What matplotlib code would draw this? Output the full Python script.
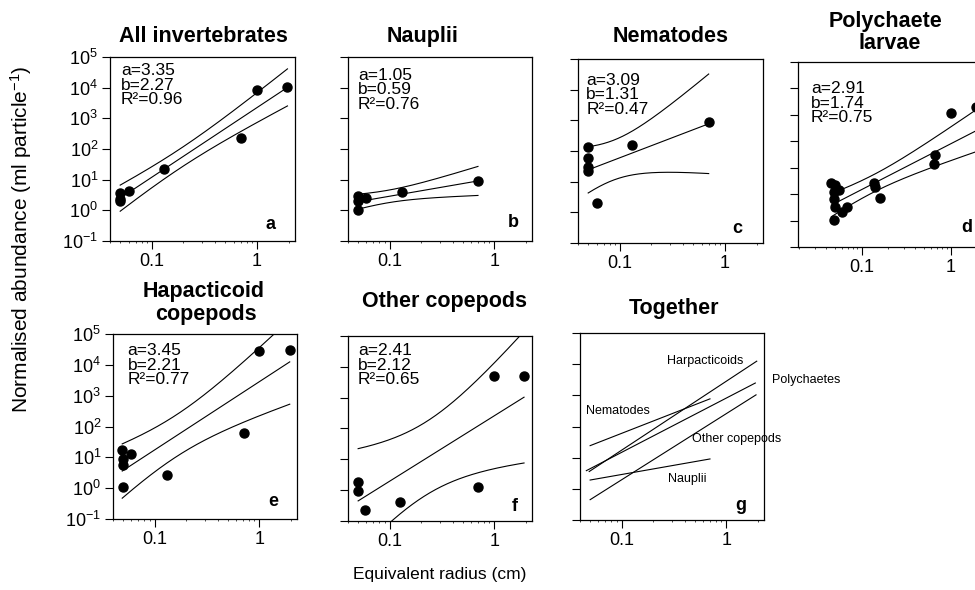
import numpy as np
import matplotlib
matplotlib.use("Agg")
import matplotlib.pyplot as plt
from matplotlib.ticker import FixedLocator, FixedFormatter, LogLocator, NullFormatter, NullLocator

plt.rcParams['font.family'] = ['Liberation Sans', 'DejaVu Sans']
plt.rcParams['mathtext.fontset'] = 'custom'
plt.rcParams['mathtext.rm'] = 'Liberation Sans'
plt.rcParams['mathtext.it'] = 'Liberation Sans:italic'
plt.rcParams['mathtext.bf'] = 'Liberation Sans:bold'

# ---------------- data ----------------
inv_x = [0.05, 0.05, 0.05, 0.061, 0.13, 0.70, 1.0, 1.95]
inv_y = [3.8, 2.0, 2.3, 4.3, 22, 223, 8400, 10300]

naup_x = [0.05, 0.05, 0.05, 0.06, 0.13, 0.70]
naup_y = [3.0, 2.0, 1.0, 2.6, 3.9, 8.8]

nem_x = [0.05, 0.05, 0.05, 0.05, 0.061, 0.13, 0.70]
nem_y = [139, 58, 29, 23, 2.0, 157, 869]

poly_x = [0.046, 0.051, 0.056, 0.049, 0.049, 0.051, 0.061, 0.069, 0.049,
          0.139, 0.143, 0.163, 0.66, 0.65, 1.0, 1.9]
poly_y = [27, 22, 14.4, 12.4, 6.4, 3.2, 2.1, 3.2, 1.05,
          27, 18, 7, 305, 136, 12200, 20400]

hap_x = [0.049, 0.05, 0.05, 0.06, 0.05, 0.13, 0.71, 1.0, 1.96]
hap_y = [17.6, 8.8, 5.8, 13, 1.09, 2.6, 61, 28800, 30300]

oth_x = [0.05, 0.05, 0.058, 0.127, 0.70, 1.0, 1.93]
oth_y = [1.78, 0.95, 0.22, 0.42, 1.28, 4970, 4970]

titles = ["All invertebrates", "Nauplii", "Nematodes", "Polychaete\nlarvae",
          "Hapacticoid\ncopepods", "Other copepods", "Together"]
panel_letters = ["a", "b", "c", "d", "e", "f", "g"]
fit_a = [3.35, 1.05, 3.09, 2.91, 3.45, 2.41]
fit_b = [2.27, 0.59, 1.31, 1.74, 2.21, 2.12]
fit_r2 = [0.96, 0.76, 0.47, 0.75, 0.77, 0.65]

together_names = ["Harpacticoids", "Polychaetes", "Other copepods", "Nematodes", "Nauplii"]
together_idx = [4, 3, 5, 2, 1]

xticks = [0.1, 1]
xticklabels = ["0.1", "1"]

T95 = {2: 4.303, 3: 3.182, 4: 2.776, 5: 2.571, 6: 2.447, 7: 2.365, 8: 2.306,
       9: 2.262, 10: 2.228, 11: 2.201, 12: 2.179, 13: 2.160, 14: 2.145,
       15: 2.131, 16: 2.120, 17: 2.110, 18: 2.101, 19: 2.093, 20: 2.086}

series = [(inv_x, inv_y), (naup_x, naup_y), (nem_x, nem_y), (poly_x, poly_y),
          (hap_x, hap_y), (oth_x, oth_y)]

# ---------------- layout ----------------
W, H = 975, 590
fig = plt.figure(figsize=(W / 100, H / 100), dpi=100)


def add_ax(x0, y0, x1, y1):
    return fig.add_axes([x0 / W, 1 - y1 / H, (x1 - x0) / W, (y1 - y0) / H])


boxes = [(110, 57, 295, 241), (348, 57, 532, 241), (578, 59, 763, 243),
         (798, 62, 983, 247), (113, 334, 297, 519), (348, 336, 532, 521),
         (580, 333, 764, 520)]
xlims = [(0.04, 2.3)] * 3 + [(0.0195, 2.28)] + [(0.04, 2.3)] * 3
ylims = [(0.1, 1e5)] * 3 + [(0.1, 1e6)] + [(0.1, 1e5)] * 3
ylab_on = [True, False, False, False, True, False, False]
stat_pos = [(0.06, 0.965), (0.055, 0.94), (0.045, 0.925), (0.07, 0.895),
            (0.08, 0.95), (0.055, 0.96)]
letter_pos = [(0.865, 0.092), (0.897, 0.103), (0.86, 0.08), (0.91, 0.108),
              (0.87, 0.097), (0.907, 0.076), (0.875, 0.08)]
title_pos = [[(203, 42)], [(423, 42)], [(671, 42)], [(886, 27), (890, 49)],
             [(204, 297), (206, 320)], [(444, 307)], [(674, 314)]]


def fit_curves(x, y, a, b):
    lx = np.log10(np.asarray(x, float))
    ly = np.log10(np.asarray(y, float))
    n = len(lx)
    xs = np.geomspace(min(x), max(x), 200)
    lxs = np.log10(xs)
    res = ly - (a + b * lx)
    s = np.sqrt(np.sum(res ** 2) / (n - 2))
    sxx = np.sum((lx - lx.mean()) ** 2)
    se = s * np.sqrt(1.0 / n + (lxs - lx.mean()) ** 2 / sxx)
    t = T95[n - 2]
    mid = a + b * lxs
    return xs, 10 ** mid, 10 ** (mid - t * se), 10 ** (mid + t * se)


axes = []
for i, box in enumerate(boxes):
    ax = add_ax(*box)
    ax.set_xscale('log')
    ax.set_yscale('log')
    ax.set_xlim(*xlims[i])
    ax.set_ylim(*ylims[i])
    ax.xaxis.set_major_locator(FixedLocator(xticks))
    ax.xaxis.set_major_formatter(FixedFormatter(xticklabels))
    ax.xaxis.set_minor_locator(LogLocator(base=10, subs=np.arange(2, 10), numticks=20))
    ax.xaxis.set_minor_formatter(NullFormatter())
    ax.yaxis.set_major_locator(LogLocator(base=10, numticks=20))
    ax.yaxis.set_minor_locator(NullLocator())
    if not ylab_on[i]:
        ax.yaxis.set_major_formatter(NullFormatter())
    ax.tick_params(which='major', direction='out', length=5.5, width=0.8,
                   labelsize=13, pad=3, colors='black')
    ax.tick_params(which='minor', direction='out', length=1.5, width=0.5)
    for sp in ax.spines.values():
        sp.set_linewidth(0.9)
    ax.text(*letter_pos[i], panel_letters[i], transform=ax.transAxes,
            ha='center', va='center', fontsize=13, fontweight='bold')
    for (tx, ty), line in zip(title_pos[i], titles[i].split("\n")):
        fig.text(tx / W, 1 - ty / H, line, ha='center', va='baseline',
                 fontsize=15.5, fontweight='bold')
    axes.append(ax)

for i in range(6):
    ax = axes[i]
    x, y = series[i]
    xs, mid, lo, hi = fit_curves(x, y, fit_a[i], fit_b[i])
    for curve in (mid, lo, hi):
        ax.plot(xs, curve, color='black', lw=0.8)
    ax.plot(x, y, 'o', color='black', ms=6.5, mec='black', clip_on=False, zorder=3)
    ax.text(*stat_pos[i],
            f"a={fit_a[i]:.2f}\nb={fit_b[i]:.2f}\nR\u00b2={fit_r2[i]:.2f}",
            transform=ax.transAxes, ha='left', va='top', fontsize=12.5,
            linespacing=0.95)

# Together panel
axg = axes[6]
for k in together_idx:
    x, _ = series[k]
    xs = np.geomspace(min(x), max(x), 50)
    axg.plot(xs, 10 ** (fit_a[k] + fit_b[k] * np.log10(xs)), color='black', lw=0.8)

label_xy = [(0.27, 10 ** 4.1), (2.77, 10 ** 3.49), (0.47, 10 ** 1.6),
            (0.046, 10 ** 2.49), (0.277, 10 ** 0.31)]
for name, (lx_, ly_) in zip(together_names, label_xy):
    axg.text(lx_, ly_, name, ha='left', va='center', fontsize=9, clip_on=False)

fig.text(440 / W, 1 - 574 / H, "Equivalent radius (cm)", ha='center', va='center',
         fontsize=12.5)
fig.text(21 / W, 1 - 239 / H, "Normalised abundance (ml particle$^{-1}$)",
         rotation=90, ha='center', va='center', fontsize=15)

fig.savefig("out.png", dpi=100)
